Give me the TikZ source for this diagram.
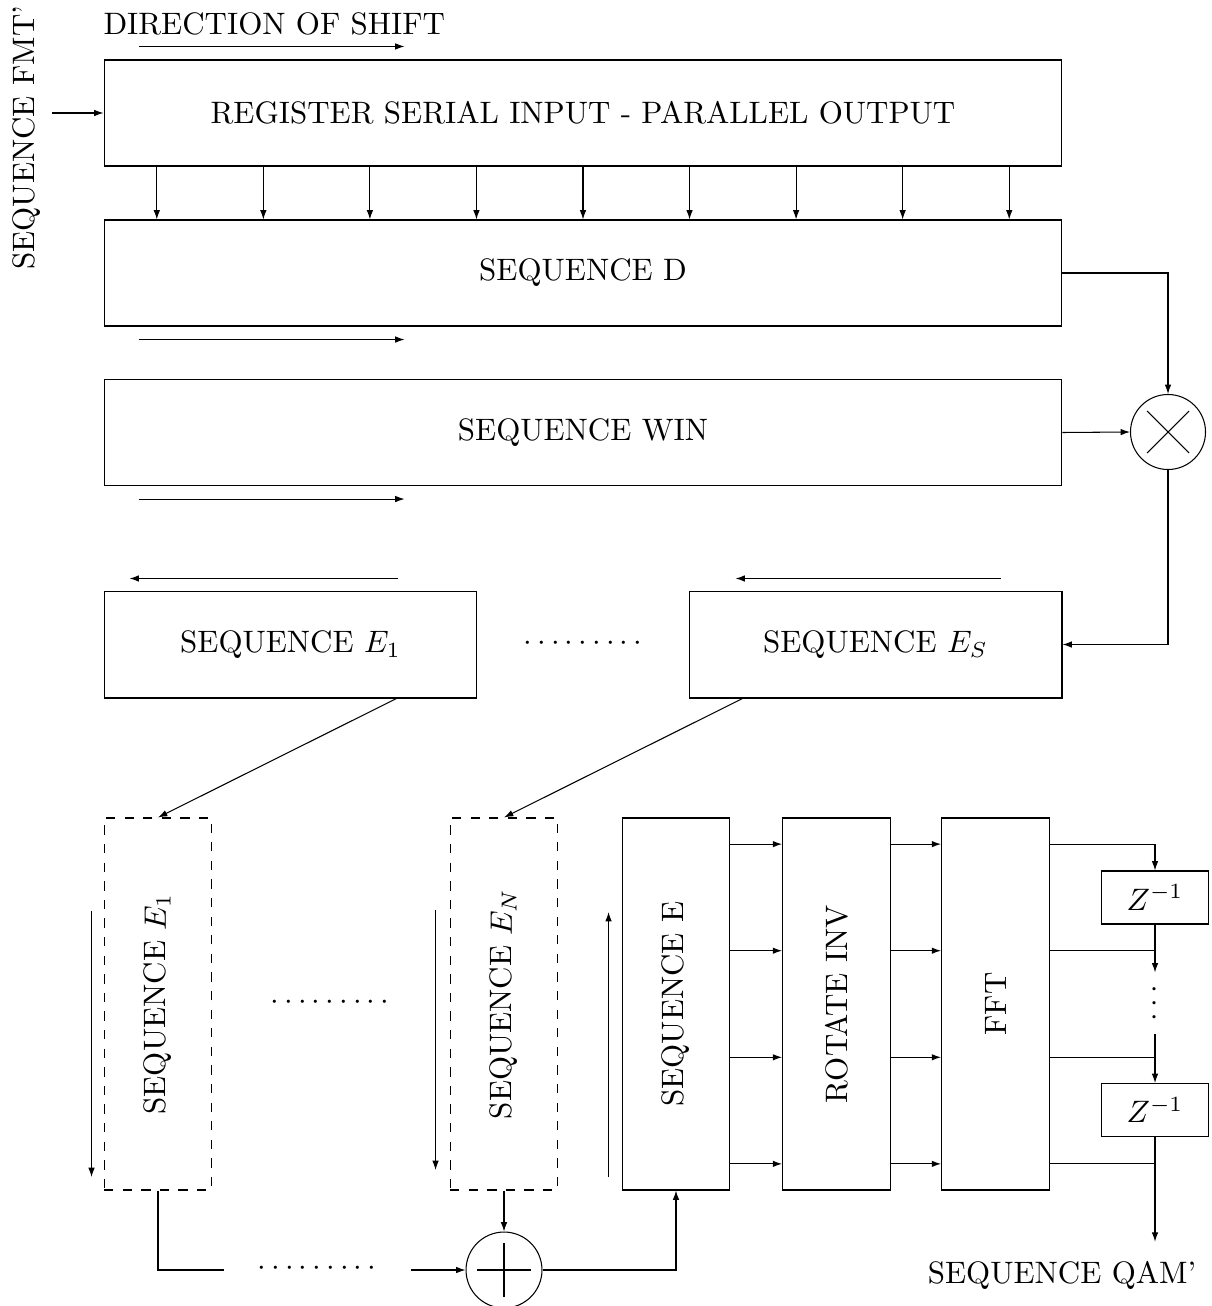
\documentclass[tikz,border=0pt]{standalone}
\usepackage{graphicx}
\usepackage{tikz}
\usetikzlibrary{arrows.meta,calc}

\begin{document}
\begin{tikzpicture}[x=0.32258pt,y=-0.32258pt,line width=0.34pt,
  wide/.style={draw,minimum width=309pt,minimum height=34.2pt,inner sep=0pt},
  half/.style={draw,minimum width=120.3pt,minimum height=34.5pt,inner sep=0pt},
  tall/.style={draw,minimum width=34.8pt,minimum height=120pt,inner sep=0pt},
  zbox/.style={draw,minimum width=34.8pt,minimum height=17.1pt,inner sep=0pt},
  ring/.style={draw,circle,minimum size=#1,inner sep=0pt},
  arr/.style={-{Latex[length=3pt,width=2.1pt]}}]
\useasboundingbox (0,0) rectangle (1211,1306);
\node[anchor=base west,inner sep=0pt] (dir) at (103,35) {DIRECTION OF SHIFT};
\node[anchor=base west,inner sep=0pt,rotate=90] (fmt) at (34,270) {SEQUENCE FMT'};
\node[wide] (reg)  at (583,113)   {REGISTER SERIAL INPUT - PARALLEL OUTPUT};
\node[wide] (seqD) at (583,273)   {SEQUENCE D};
\node[wide] (win)  at (583,432.5) {SEQUENCE WIN};
\node[ring=24.2pt] (mult) at (1168,432) {};
\node[half] (E1) at (290.5,644.5) {SEQUENCE $E_1$};
\node[half] (ES) at (875.5,644.5) {SEQUENCE $E_S$};
\node (dotsA) at (583,644) {$\cdots\cdots\cdots$};
\node[tall,dashed] (D1) at (158,1004) {\rotatebox{90}{SEQUENCE $E_1$}};
\node[tall,dashed] (DN) at (504,1004) {\rotatebox{90}{SEQUENCE $E_N$}};
\node (dotsB) at (330,1003) {$\cdots\cdots\cdots$};
\node[tall] (seqE) at (676,1004)   {\rotatebox{90}{SEQUENCE E}};
\node[tall] (rot)  at (836.5,1004) {\rotatebox{90}{ROTATE INV}};
\node[tall] (fft)  at (995.5,1004) {\rotatebox{90}{FFT}};
\node[zbox] (z1) at (1155,897.5) {$Z^{-1}$};
\node[zbox] (z2) at (1155,1110)  {$Z^{-1}$};
\node[minimum height=19.4pt,inner sep=0pt] (vd) at (1155,1003) {\rotatebox{90}{$\cdots$}};
\node[anchor=base,inner ysep=6pt] (qam) at (1062,1283) {SEQUENCE QAM'};
\node[ring=24.5pt] (add) at (504,1270) {};
\node (dotsC) at (317,1269) {$\cdots\cdots\cdots$};
\coordinate (src) at (52,113);
\coordinate (c1) at (224,1270); \coordinate (c2) at (411,1270);
\draw ([shift={(-21,-21)}]mult.center) -- ([shift={(21,21)}]mult.center) ([shift={(-21,21)}]mult.center) -- ([shift={(21,-21)}]mult.center);
\draw ([shift={(-27,0)}]add.center) -- ([shift={(27,0)}]add.center) ([shift={(0,-27)}]add.center) -- ([shift={(0,27)}]add.center);
\draw[arr] ([shift={(35,-13)}]reg.north west) -- ++(266,0);
\draw[arr] ([shift={(35,13)}]seqD.south west) -- ++(266,0);
\draw[arr] ([shift={(35,13)}]win.south west) -- ++(266,0);
\draw[arr] ([shift={(294,-12)}]E1.north west) -- ++(-268,0);
\draw[arr] ([shift={(312,-12)}]ES.north west) -- ++(-265,0);
\draw[arr] ([shift={(-12,-93)}]D1.west) -- ++(0,266);
\draw[arr] ([shift={(-14,-94)}]DN.west) -- ++(0,260);
\draw[arr] ([shift={(-13,173)}]seqE.west) -- ++(0,-265);
\draw[arr] (src) -- (reg.west);
\foreach \i in {0,...,8}
  \draw[arr] ($(reg.south west)!{(\i+0.5)/9}!(reg.south east)$) -- ($(seqD.north west)!{(\i+0.5)/9}!(seqD.north east)$);
\draw[arr] (seqD.east) -| (mult.north); \draw[arr] (win.east) -- (mult.west); \draw[arr] (mult.south) |- (ES.east);
\draw[arr] ([shift={(293,0)}]E1.south west) -- (D1.north); \draw[arr] ([shift={(54,0)}]ES.south west) -- (DN.north);
\draw[arr] (DN.south) -- (add.north); \draw (D1.south) |- (c1); \draw[arr] (c2) -- (add.west);
\draw[arr] (add.east) -| (seqE.south);
\foreach \f in {1,5,9,13} {
  \draw[arr] ($(seqE.north east)!\f/14!(seqE.south east)$) -- ($(rot.north west)!\f/14!(rot.south west)$);
  \draw[arr] ($(rot.north east)!\f/14!(rot.south east)$) -- ($(fft.north west)!\f/14!(fft.south west)$);
}
\foreach \f [count=\k] in {1,5,9,13} \coordinate (o\k) at ($(fft.north east)!\f/14!(fft.south east)$);
\draw[arr] (o1) -| (z1.north); \draw (o2) -- (o2 -| z1.south); \draw (o3) -- (o3 -| z2.north); \draw (o4) -- (o4 -| z2.south);
\draw[arr] (z1.south) -- (vd.north); \draw[arr] (vd.south) -- (z2.north); \draw[arr] (z2.south) -- (qam.north -| z2.south);
\end{tikzpicture}
\end{document}
